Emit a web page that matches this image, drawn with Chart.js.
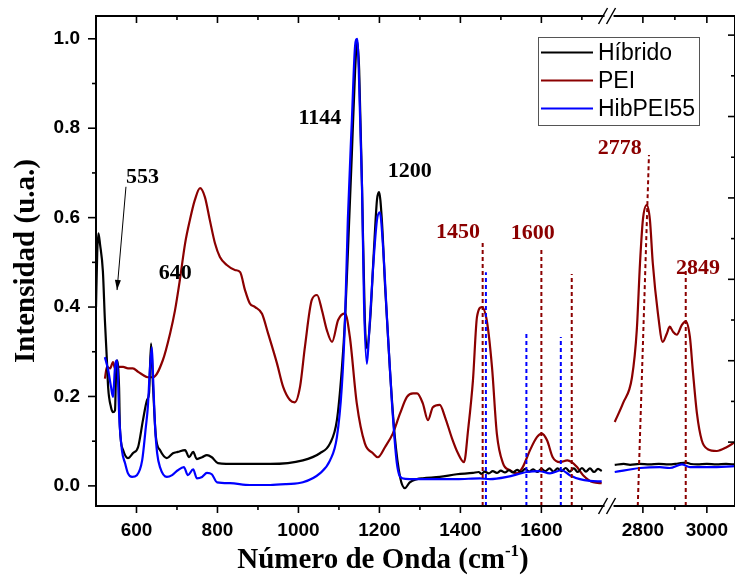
<!DOCTYPE html>
<html>
<head>
<meta charset="utf-8">
<script src="https://cdn.jsdelivr.net/npm/chart.js@4.4.1/dist/chart.umd.min.js"></script>
<style>
  body { margin: 0; background: #fff; }
  #contenedor { width: 735px; height: 575px; }
</style>
</head>
<body>
<div id="contenedor"><canvas id="espectro" width="735" height="575"></canvas></div>
<script>
// Espectros: [numero de onda, intensidad]
const hibridoIzq = [[500,0.40],[503,0.52],[506,0.565],[510,0.54],[517,0.48],[522,0.37],[527,0.28],[530,0.22],[537,0.176],[542,0.165],[547,0.169],[549,0.236],[552,0.281],[557,0.22],[559,0.131],[567,0.08],[579,0.062],[591,0.073],[604,0.087],[616,0.147],[626,0.192],[631,0.207],[636,0.319],[641,0.22],[648,0.109],[658,0.08],[675,0.062],[690,0.073],[702,0.076],[720,0.08],[730,0.064],[740,0.076],[749,0.06],[762,0.064],[774,0.069],[786,0.064],[801,0.051],[850,0.049],[930,0.049],[1011,0.057],[1053,0.073],[1078,0.095],[1095,0.147],[1107,0.259],[1115,0.371],[1122,0.52],[1132,0.744],[1140,0.93],[1145,0.995],[1150,0.93],[1157,0.669],[1164,0.371],[1169,0.308],[1177,0.37],[1186,0.52],[1194,0.64],[1199,0.657],[1206,0.595],[1214,0.446],[1226,0.259],[1238,0.11],[1251,0.02],[1263,-0.005],[1275,0.008],[1293,0.015],[1307,0.017],[1349,0.02],[1391,0.026],[1431,0.029],[1445,0.031],[1452,0.027],[1460,0.032],[1470,0.028],[1480,0.033],[1490,0.029],[1500,0.034],[1510,0.03],[1520,0.035],[1530,0.03],[1540,0.036],[1550,0.031],[1560,0.038],[1570,0.032],[1580,0.037],[1590,0.031],[1600,0.038],[1610,0.033],[1620,0.039],[1630,0.032],[1640,0.039],[1650,0.033],[1660,0.04],[1670,0.032],[1680,0.039],[1690,0.031],[1700,0.04],[1710,0.032],[1720,0.039],[1730,0.031],[1740,0.038],[1749,0.033]];
const hibridoDer = [[2712,0.047],[2740,0.049],[2760,0.047],[2790,0.049],[2820,0.048],[2850,0.049],[2880,0.048],[2910,0.05],[2934,0.052],[2950,0.049],[2970,0.048],[3000,0.049],[3030,0.048],[3060,0.049],[3088,0.048]];

const peiIzq = [[522,0.24],[527,0.266],[535,0.263],[542,0.277],[547,0.263],[554,0.266],[567,0.266],[579,0.263],[591,0.263],[604,0.255],[616,0.248],[628,0.243],[641,0.243],[665,0.281],[683,0.341],[695,0.392],[707,0.46],[720,0.542],[732,0.595],[744,0.639],[757,0.666],[769,0.646],[781,0.595],[794,0.542],[806,0.512],[823,0.494],[843,0.483],[856,0.478],[868,0.438],[880,0.408],[893,0.4],[910,0.385],[925,0.341],[947,0.274],[962,0.222],[979,0.192],[991,0.187],[1004,0.222],[1016,0.311],[1033,0.416],[1046,0.427],[1058,0.393],[1070,0.349],[1083,0.322],[1098,0.371],[1115,0.386],[1127,0.333],[1144,0.185],[1164,0.095],[1184,0.073],[1196,0.064],[1214,0.087],[1233,0.117],[1251,0.162],[1268,0.199],[1283,0.207],[1293,0.207],[1307,0.185],[1320,0.147],[1332,0.176],[1349,0.181],[1362,0.154],[1379,0.107],[1394,0.073],[1409,0.053],[1419,0.125],[1431,0.236],[1441,0.378],[1453,0.4],[1465,0.371],[1478,0.266],[1490,0.117],[1505,0.051],[1522,0.035],[1540,0.028],[1554,0.042],[1572,0.08],[1589,0.109],[1601,0.117],[1614,0.102],[1628,0.064],[1646,0.053],[1664,0.057],[1675,0.053],[1688,0.042],[1703,0.024],[1728,0.008],[1749,0.006]];
const peiDer = [[2712,0.143],[2738,0.185],[2766,0.243],[2781,0.349],[2791,0.498],[2800,0.595],[2812,0.628],[2822,0.595],[2831,0.498],[2847,0.386],[2862,0.322],[2875,0.341],[2884,0.356],[2894,0.345],[2906,0.338],[2922,0.36],[2934,0.368],[2947,0.333],[2956,0.259],[2969,0.162],[2984,0.102],[3003,0.082],[3031,0.078],[3063,0.087],[3088,0.098]];

const hibPeiIzq = [[522,0.288],[530,0.259],[537,0.222],[542,0.199],[544,0.22],[547,0.266],[552,0.281],[554,0.251],[557,0.162],[564,0.08],[572,0.05],[579,0.028],[589,0.02],[601,0.024],[614,0.057],[623,0.131],[628,0.176],[633,0.259],[638,0.31],[641,0.243],[646,0.131],[651,0.073],[658,0.042],[675,0.02],[688,0.024],[702,0.035],[717,0.042],[727,0.024],[740,0.037],[749,0.017],[762,0.02],[774,0.029],[786,0.026],[799,0.008],[831,0.006],[880,0.002],[930,0.002],[970,0.004],[1011,0.008],[1053,0.028],[1078,0.057],[1095,0.109],[1107,0.22],[1115,0.37],[1122,0.595],[1132,0.819],[1140,0.985],[1145,1.0],[1149,0.93],[1157,0.669],[1162,0.408],[1169,0.273],[1174,0.333],[1184,0.483],[1194,0.595],[1201,0.612],[1209,0.534],[1219,0.37],[1231,0.185],[1243,0.051],[1256,0.017],[1275,0.015],[1300,0.015],[1391,0.015],[1448,0.017],[1473,0.015],[1515,0.02],[1564,0.031],[1596,0.033],[1621,0.028],[1650,0.035],[1670,0.024],[1695,0.015],[1720,0.011],[1749,0.01]];
const hibPeiDer = [[2712,0.031],[2791,0.04],[2853,0.042],[2884,0.04],[2922,0.048],[2947,0.042],[3009,0.042],[3088,0.044]];

// Lineas punteadas: [numero de onda abajo, numero de onda arriba, altura]
const marcasPei = [[1455,1455,0.543],[1600,1600,0.534],[1675,1675,0.474],[2784,2819,0.74],[2934,2934,0.483]];
const marcasHibPei = [[1463,1463,0.478],[1563,1563,0.344],[1648,1648,0.333]];

// Ejes
const xMayores = [600, 800, 1000, 1200, 1400, 1600, 2800, 3000];
const xMenores = [700, 900, 1100, 1300, 1500, 1700, 2900];
const yEtiquetas = [0, 0.2, 0.4, 0.6, 0.8, 1.0];
const yMenores = [0.1, 0.3, 0.5, 0.7, 0.9];
const yDerecha = [0, 0.1, 0.2, 0.3, 0.4, 0.5, 0.6, 0.7, 0.8, 0.9, 1.0];

// Picos anotados
const picos = [
  { texto: '553', x: 615, y: 0.691, color: '#000' },
  { texto: '640', x: 696, y: 0.476, color: '#000' },
  { texto: '1144', x: 1053, y: 0.823, color: '#000' },
  { texto: '1200', x: 1275, y: 0.704, color: '#000' },
  { texto: '1450', x: 1394, y: 0.568, color: '#8b0000' },
  { texto: '1600', x: 1579, y: 0.566, color: '#8b0000' },
  { texto: '2778', x: 2728, y: 0.754, color: '#8b0000' },
  { texto: '2849', x: 2972, y: 0.487, color: '#8b0000' }
];
const flecha553 = [[574, 0.669], [552, 0.438]];

const corteBajo = 1765;
const corteAlto = 2700;
const hueco = 6.7;
const razonDerecha = 0.79;
const yMin = -0.045;

const negro = '#000000';
const vino = '#8b0000';
const azul = '#0000ff';

// Escala lineal con el eje cortado entre corteBajo y corteAlto
class EjeCortado extends Chart.LinearScale {
  static id = 'cortado';
  static defaults = {};
  aEje(v) {
    return v <= corteBajo ? v : corteBajo + hueco + (v - corteAlto) * razonDerecha;
  }
  getPixelForValue(v) {
    const a = this.aEje(this.min), b = this.aEje(this.max);
    return this.getPixelForDecimal((this.aEje(v) - a) / (b - a));
  }
}
Chart.register(EjeCortado);

const aPuntos = arr => arr.map(([x, y]) => ({ x, y }));

const serie = (label, datos, color, leyenda) => ({
  label, data: aPuntos(datos), borderColor: color, borderWidth: 2.2,
  pointRadius: 0, cubicInterpolationMode: 'monotone', fill: false, leyenda
});

const punteada = (m, color) => ({
  label: '', data: [{ x: m[0], y: yMin }, { x: m[1], y: m[2] }],
  borderColor: color, borderWidth: 2, borderDash: [4, 3], pointRadius: 0, fill: false
});

const datasets = [
  ...marcasPei.map(m => punteada(m, vino)),
  ...marcasHibPei.map(m => punteada(m, azul)),
  serie('HibPEI55', hibPeiIzq, azul, true),
  serie('HibPEI55', hibPeiDer, azul, false),
  serie('Híbrido', hibridoIzq, negro, true),
  serie('Híbrido', hibridoDer, negro, false),
  serie('PEI', peiIzq, vino, true),
  serie('PEI', peiDer, vino, false)
];

const fuenteTicks = { family: 'Liberation Sans', size: 19, weight: 'bold' };

const marco = {
  id: 'marco',
  afterDraw(chart) {
    const { ctx, chartArea: a, scales: { x, y, y2 } } = chart;
    const raya = (x1, y1, x2, y2_) => { ctx.beginPath(); ctx.moveTo(x1, y1); ctx.lineTo(x2, y2_); ctx.stroke(); };
    ctx.save();
    ctx.strokeStyle = '#000';
    ctx.lineWidth = 2;
    ctx.strokeRect(a.left, a.top, a.right - a.left, a.bottom - a.top);

    ctx.lineWidth = 1.6;
    xMayores.forEach(v => { const p = x.getPixelForValue(v); raya(p, a.bottom, p, a.bottom + 7); raya(p, a.top, p, a.top + 7); });
    xMenores.forEach(v => { const p = x.getPixelForValue(v); raya(p, a.bottom, p, a.bottom + 4); raya(p, a.top, p, a.top + 4); });
    yEtiquetas.forEach(v => { const p = y.getPixelForValue(v); raya(a.left - 8, p, a.left, p); });
    yMenores.forEach(v => { const p = y.getPixelForValue(v); raya(a.left - 4, p, a.left, p); });
    yDerecha.forEach((v, i) => { const p = y2.getPixelForValue(v); raya(a.right, p, a.right - (i % 2 ? 4 : 7), p); });

    // corte del eje
    const pc = (x.getPixelForValue(corteBajo) + x.getPixelForValue(corteAlto)) / 2;
    [a.top, a.bottom].forEach(yy => {
      ctx.fillStyle = '#fff';
      ctx.fillRect(pc - 5, yy - 3, 9, 6);
      ctx.lineWidth = 1.5;
      raya(pc - 11, yy + 8, pc - 2, yy - 8);
      raya(pc - 3, yy + 8, pc + 6, yy - 8);
    });

    // anotaciones
    ctx.textAlign = 'center';
    ctx.textBaseline = 'middle';
    ctx.font = 'bold 22px "Liberation Serif"';
    picos.forEach(p => {
      ctx.fillStyle = p.color;
      ctx.fillText(p.texto, x.getPixelForValue(p.x), y.getPixelForValue(p.y));
    });

    // flecha de 553
    const [f1, f2] = flecha553.map(([vx, vy]) => [x.getPixelForValue(vx), y.getPixelForValue(vy)]);
    ctx.lineWidth = 1;
    ctx.strokeStyle = '#000';
    raya(f1[0], f1[1], f2[0], f2[1]);
    const ang = Math.atan2(f2[1] - f1[1], f2[0] - f1[0]);
    ctx.fillStyle = '#000';
    ctx.beginPath();
    ctx.moveTo(f2[0], f2[1]);
    ctx.lineTo(f2[0] - 10 * Math.cos(ang) + 3 * Math.sin(ang), f2[1] - 10 * Math.sin(ang) - 3 * Math.cos(ang));
    ctx.lineTo(f2[0] - 10 * Math.cos(ang) - 3 * Math.sin(ang), f2[1] - 10 * Math.sin(ang) + 3 * Math.cos(ang));
    ctx.closePath();
    ctx.fill();

    // leyenda
    const items = chart.data.datasets.filter(d => d.leyenda);
    const orden = ['Híbrido', 'PEI', 'HibPEI55'].map(n => items.find(d => d.label === n));
    ctx.fillStyle = '#fff';
    ctx.fillRect(538, 37, 161, 88);
    ctx.strokeStyle = '#555';
    ctx.lineWidth = 1;
    ctx.strokeRect(538.5, 37.5, 161, 88);
    ctx.textAlign = 'left';
    ctx.font = '23px "Liberation Sans"';
    orden.forEach((d, i) => {
      const yy = 52.5 + i * 28;
      ctx.strokeStyle = d.borderColor;
      ctx.lineWidth = 2.2;
      raya(541, yy, 593, yy);
      ctx.fillStyle = '#000';
      ctx.fillText(d.label, 598, yy + 1);
    });

    // titulos de los ejes
    ctx.fillStyle = '#000';
    ctx.font = 'bold 29px "Liberation Serif"';
    const t1 = 'Número de Onda (cm', t3 = ')';
    const w1 = ctx.measureText(t1).width, w3 = ctx.measureText(t3).width;
    ctx.font = 'bold 17px "Liberation Serif"';
    const w2 = ctx.measureText('-1').width;
    let xt = 383 - (w1 + w2 + w3) / 2;
    ctx.textBaseline = 'alphabetic';
    ctx.font = 'bold 29px "Liberation Serif"';
    ctx.fillText(t1, xt, 568);
    ctx.font = 'bold 17px "Liberation Serif"';
    ctx.fillText('-1', xt + w1, 556);
    ctx.font = 'bold 29px "Liberation Serif"';
    ctx.fillText(t3, xt + w1 + w2, 568);

    ctx.translate(27, (a.top + a.bottom) / 2);
    ctx.rotate(-Math.PI / 2);
    ctx.textAlign = 'center';
    ctx.textBaseline = 'middle';
    ctx.fillText('Intensidad (u.a.)', 0, 0);
    ctx.restore();
  }
};

new Chart(document.getElementById('espectro').getContext('2d'), {
  type: 'line',
  data: { datasets },
  options: {
    responsive: false,
    animation: false,
    events: [],
    layout: { padding: { top: 16, right: 0, bottom: 0, left: 0 } },
    plugins: { legend: { display: false }, tooltip: { enabled: false } },
    scales: {
      x: {
        type: 'cortado', min: 500, max: 3088,
        grid: { display: false }, border: { display: false },
        afterBuildTicks: s => { s.ticks = [...xMayores, ...xMenores].sort((p, q) => p - q).map(value => ({ value })); },
        afterFit: s => { s.height = 69; s.paddingLeft = 0; s.paddingRight = 0; },
        ticks: { autoSkip: false, maxRotation: 0, padding: 5, color: '#000', font: fuenteTicks,
                 callback: v => xMayores.includes(v) ? String(v) : '' }
      },
      y: {
        type: 'linear', min: yMin, max: 1.051,
        grid: { display: false }, border: { display: false },
        afterBuildTicks: s => { s.ticks = [...yEtiquetas, ...yMenores].sort((p, q) => p - q).map(value => ({ value })); },
        afterFit: s => { s.width = 96; s.paddingTop = 0; s.paddingBottom = 0; },
        ticks: { autoSkip: false, padding: 8, color: '#000', font: fuenteTicks,
                 callback: v => yEtiquetas.some(e => Math.abs(e - v) < 1e-6) ? v.toFixed(1) : '' }
      },
      y2: { type: 'linear', display: false, position: 'right', min: -0.157, max: 1.047 }
    }
  },
  plugins: [marco]
});
</script>
</body>
</html>
